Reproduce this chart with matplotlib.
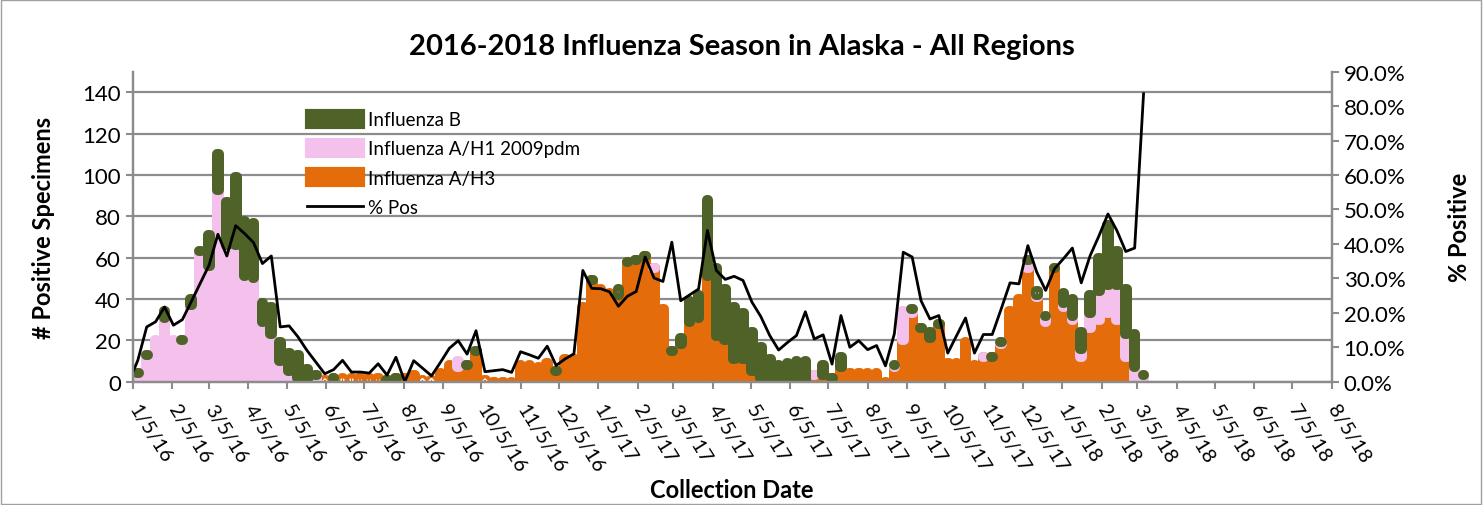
import numpy as np
import pandas as pd
import matplotlib
matplotlib.use("Agg")
import matplotlib.pyplot as plt
from matplotlib.patches import Patch, Rectangle
from matplotlib.lines import Line2D
from matplotlib.ticker import PercentFormatter

nan = np.nan

# one value per week (week ending Saturday), first week 1/2/16
first_week = "2016-01-02"
n_weeks = 115

flu_a_h3 = [
    0, 0, 0, 0, 0, 0, 0, 0, 0, 0,
    1, 0, 0, 2, 0, 0, 1, 0, 0, 0,
    0, 0, 1, 2, 2, 2, 2, 2, 2, 1,
    2, 2, 3, 1, 1, 4, 8, 7, 8, 15,
    1, 0, 0, 0, 8, 8, 7, 9, 5, 11,
    11, 36, 49, 45, 43, 42, 58, 59, 61, 55,
    35, 15, 18, 29, 31, 51, 22, 20, 11, 11,
    5, 2, 2, 1, 1, 1, 1, 3, 3, 2,
    7, 4, 4, 4, 4, 0, 7, 20, 33, 26,
    21, 28, 9, 9, 19, 8, 12, 12, 18, 34,
    40, 55, 41, 29, 55, 36, 30, 12, 26, 30,
    33, 30, 12, 1, 0,
]

flu_a_h1 = [
    1, 4, 13, 20, 31, 20, 20, 37, 63, 56,
    92, 66, 66, 49, 50, 29, 22, 10, 5, 2,
    1, 3, nan, nan, nan, nan, nan, nan, nan, nan,
    nan, nan, nan, nan, nan, nan, nan, 3, nan, nan,
    nan, nan, nan, nan, nan, nan, nan, nan, nan, nan,
    nan, nan, nan, nan, nan, nan, nan, nan, nan, 0,
    nan, nan, nan, nan, nan, nan, nan, nan, nan, nan,
    nan, nan, nan, nan, nan, nan, nan, 0, nan, nan,
    nan, nan, nan, nan, nan, nan, 1, 14, 2, nan,
    nan, nan, nan, nan, nan, nan, 0, nan, 1, nan,
    nan, 4, 1, 3, nan, 2, 2, 4, 7, 14,
    14, 17, 11, 6, 3,
]

flu_b = [
    nan, 0, 0, nan, 3, nan, 0, 3, 0, 15,
    17, 21, 33, 27, 27, 9, 13, 9, 9, 11,
    5, 0, nan, 0, nan, nan, nan, nan, nan, 0,
    0, nan, nan, nan, nan, nan, nan, nan, 0, 0,
    nan, nan, nan, nan, nan, nan, nan, nan, 0, nan,
    nan, nan, 0, nan, nan, 3, 0, 0, 0, nan,
    nan, 0, 3, 10, 11, 37, 33, 25, 25, 22,
    19, 15, 9, 7, 8, 9, 9, nan, 5, 0,
    5, nan, nan, nan, nan, nan, 0, nan, 0, 0,
    3, 0, nan, nan, nan, nan, nan, 0, 0, nan,
    nan, 0, 2, 0, 0, 5, 8, 8, 9, 16,
    29, 16, 22, 16, 0,
]

# percent of specimens positive
pct_pos = [
    0, 6.2, 15.9, 17.4, 21.7, 16.4, 18.0, 23.2, 28.5, 33.8,
    42.8, 36.5, 45.3, 43.0, 40.4, 34.3, 36.5, 15.9, 16.2, 13.0,
    9.1, 5.7, 2.3, 3.5, 6.2, 2.8, 2.8, 2.5, 5.2, 1.9,
    7.1, 0, 6.1, 3.9, 1.7, 5.6, 9.7, 11.9, 8.0, 14.8,
    2.9, 3.2, 3.5, 2.7, 8.7, 7.8, 6.8, 10.3, 4.7, 6.6,
    8.1, 32.3, 27.1, 27.0, 26.1, 21.9, 24.8, 26.2, 36.2, 30.1,
    29.1, 40.5, 23.5, 25.2, 26.9, 43.9, 32.3, 29.7, 30.6, 29.4,
    23.1, 18.9, 13.4, 9.2, 11.4, 13.4, 20.3, 12.4, 13.6, 5.1,
    19.2, 10.0, 11.9, 9.3, 10.5, 4.6, 13.9, 37.6, 36.2, 23.5,
    18.2, 19.2, 8.3, 13.4, 18.5, 8.3, 13.7, 13.7, 21.1, 28.7,
    28.4, 39.5, 31.8, 26.5, 32.8, 35.7, 38.8, 28.7, 36.6, 42.4,
    48.7, 43.9, 37.8, 38.8, 83.6,
]

weeks = pd.date_range(first_week, periods=n_weeks, freq="7D")
month_ticks = pd.date_range("2016-01-05", "2018-08-05", freq=pd.DateOffset(months=1))
tick_labels = [f"{d.month}/{d.day}/{d.year % 100}" for d in month_ticks]

GREEN = "#4f6228"
PINK = "#f4c0ec"
ORANGE = "#e46c0a"
GRID = "#8c8c8c"

plt.rcParams["font.family"] = ["Lato", "DejaVu Sans"]

fig = plt.figure(figsize=(14.83, 5.06), dpi=100)
ax = fig.add_axes([0.0895, 0.2437, 0.8085, 0.6126])
ax2 = ax.twinx()

h3 = np.array(flu_a_h3, dtype=float)
h1 = np.array(flu_a_h1, dtype=float)
b = np.array(flu_b, dtype=float)
bottom_h1 = np.nan_to_num(h3)
bottom_b = bottom_h1 + np.nan_to_num(h1)

# bars drawn Excel-style: thin bar with a thick rounded outline
bar_kw = dict(width=1.3, linewidth=7.2, joinstyle="round", capstyle="round")
for vals, base, col in [(h3, np.zeros(n_weeks), ORANGE), (h1, bottom_h1, PINK), (b, bottom_b, GREEN)]:
    m = ~np.isnan(vals)
    ax.bar(weeks[m], vals[m], bottom=base[m], color=col, edgecolor=col, **bar_kw)

ax2.plot(weeks, np.array(pct_pos) / 100, color="black", lw=2.0)

ax.set_xlim(month_ticks[0], month_ticks[-1])
ax.set_ylim(0, 150)
ax.set_yticks(range(0, 141, 20))
ax2.set_ylim(0, 0.9)
ax2.set_yticks(np.arange(0, 0.91, 0.1))
ax2.yaxis.set_major_formatter(PercentFormatter(1.0, decimals=1))

ax.yaxis.grid(True, color=GRID, lw=1.6)
ax.set_axisbelow(True)
ax.set_xticks(month_ticks)
ax.set_xticklabels(tick_labels, rotation=-58, ha="left", va="center", rotation_mode="anchor")

for a in (ax, ax2):
    for s in a.spines.values():
        s.set_color(GRID)
        s.set_linewidth(1.6)
    a.spines["top"].set_visible(False)
    a.tick_params(colors=GRID, width=1.5, length=5, labelsize=16, labelcolor="black")
ax.tick_params(axis="x", pad=12, labelsize=14.5)

ax.set_ylabel("# Positive Specimens", fontsize=17, fontweight="bold", labelpad=20)
ax2.set_ylabel("% Positive", fontsize=17, fontweight="bold", labelpad=31)
ax.set_xlabel("Collection Date", fontsize=17, fontweight="bold", labelpad=2)
fig.text(0.5, 0.907, "2016-2018 Influenza Season in Alaska - All Regions", fontsize=21,
         fontweight="bold", ha="center", va="center")

handles = [
    Patch(facecolor=GREEN, edgecolor=GREEN, lw=3, joinstyle="round", label="Influenza B"),
    Patch(facecolor=PINK, edgecolor=PINK, lw=3, joinstyle="round", label="Influenza A/H1 2009pdm"),
    Patch(facecolor=ORANGE, edgecolor=ORANGE, lw=3, joinstyle="round", label="Influenza A/H3"),
    Line2D([], [], color="black", lw=2.0, label="% Pos"),
]
ax2.legend(handles=handles, loc="upper left", bbox_to_anchor=(0.145, 0.874), frameon=False,
           fontsize=13.5, handlelength=3.0, handleheight=0.95, handletextpad=0.25,
           labelspacing=0.62, borderaxespad=0, borderpad=0)

fig.patches.append(Rectangle((0.0008, 0.002), 0.998, 0.996, transform=fig.transFigure,
                             fill=False, edgecolor="#a0a0a0", lw=1.0))

fig.savefig("out.png", dpi=100)
